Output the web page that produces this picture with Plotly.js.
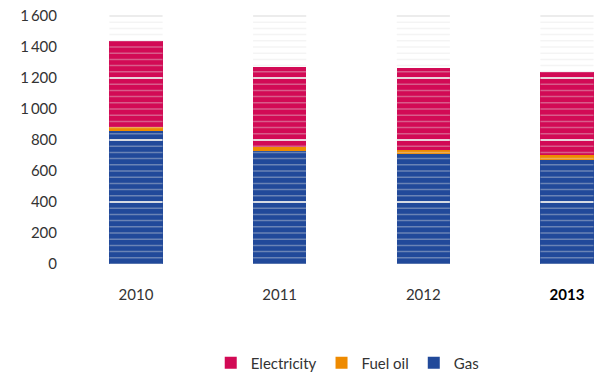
<!DOCTYPE html>
<html>
<head>
<meta charset="utf-8">
<script src="https://cdn.plot.ly/plotly-3.0.1.min.js"></script>
<style>
  html, body { margin: 0; padding: 0; background: #fff; }
  #chart { width: 597px; height: 374px; }
</style>
</head>
<body>
<div id="chart"></div>
<script>
// ---- data ----
const years = ['2010', '2011', '2012', '2013'];
const gas = [860, 731, 712, 672];
const fuelOil = [22, 24, 25, 32];
const electricity = [558, 517, 529, 533];
const seriesNames = ['Gas', 'Fuel oil', 'Electricity'];
const yTickVals = [0, 200, 400, 600, 800, 1000, 1200, 1400, 1600];
const yTickText = ['0', '200', '400', '600', '800', '1\u2009000', '1\u2009200', '1\u2009400', '1\u2009600'];
const xTickText = ['2010', '2011', '2012', '<b style="color:#000">2013</b>'];

// ---- styling ----
const colors = { gas: '#21499a', fuel: '#ee8a00', elec: '#d20a55' };
const barWidth = 0.37;
const stripeStep = 40;
const majorStep = 400;
const yMax = 1600;

const common = { type: 'bar', x: years, width: barWidth, hoverinfo: 'skip' };
const traces = [
  Object.assign({}, common, { name: seriesNames[0], y: gas, marker: { color: colors.gas, line: { width: 0 } } }),
  Object.assign({}, common, { name: seriesNames[1], y: fuelOil, marker: { color: colors.fuel, line: { width: 0 } } }),
  Object.assign({}, common, { name: seriesNames[2], y: electricity, marker: { color: colors.elec, line: { width: 0 } } })
];

// striped grid drawn only across the bar columns
const shapes = [];
years.forEach((yr, i) => {
  for (let v = 0; v <= yMax; v += stripeStep) {
    const major = v > 0 && v % majorStep === 0;
    shapes.push({
      type: 'line', xref: 'x', yref: 'y', layer: 'above',
      x0: i - barWidth / 2, x1: i + barWidth / 2, y0: v, y1: v,
      line: major ? { color: 'rgba(234,234,234,0.9)', width: 2.2 }
                  : { color: 'rgba(225,225,225,0.38)', width: 1.5 }
    });
  }
});

const font = { family: 'Lato, "Open Sans", sans-serif', size: 15, color: '#333' };

const layout = {
  width: 597, height: 374,
  margin: { l: 58, r: 0, t: 14, b: 110, pad: 0, autoexpand: false },
  paper_bgcolor: '#fff', plot_bgcolor: '#fff',
  font: font,
  barmode: 'stack',
  showlegend: true,
  legend: {
    orientation: 'h', traceorder: 'reversed',
    xref: 'container', yref: 'container',
    x: 0.353, xanchor: 'left', y: 1 - 363 / 374, yanchor: 'middle',
    font: font, itemwidth: 30, bgcolor: 'rgba(0,0,0,0)'
  },
  xaxis: {
    type: 'category', range: [-0.543, 3.209],
    tickvals: years, ticktext: xTickText,
    ticks: 'outside', ticklen: 17, tickcolor: 'rgba(0,0,0,0)',
    showgrid: false, zeroline: false, showline: false, fixedrange: true,
    tickfont: font
  },
  yaxis: {
    range: [0, 1612.9],
    tickvals: yTickVals, ticktext: yTickText,
    ticks: '', showgrid: false, zeroline: false, showline: false, fixedrange: true,
    tickfont: font
  },
  shapes: shapes
};

Plotly.newPlot('chart', traces, layout, { displayModeBar: false, staticPlot: true });
</script>
</body>
</html>
